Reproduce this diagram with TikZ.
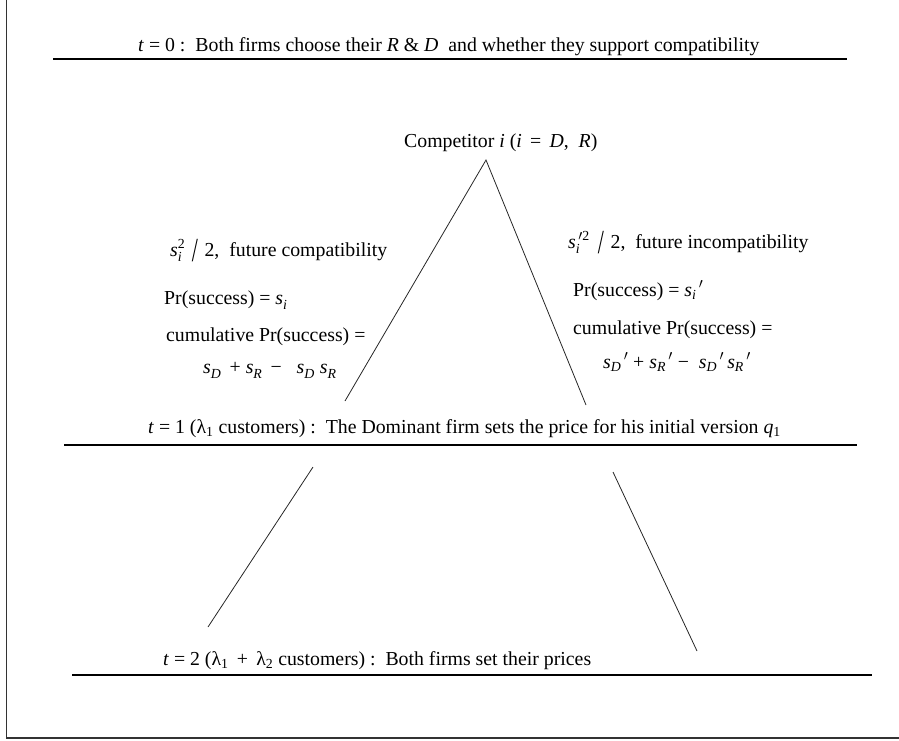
\documentclass[tikz,border=0pt]{standalone}
\usepackage{amsmath}
\usepackage{graphicx}
\usepackage{fontspec}
\setmainfont{Liberation Serif}
\newcommand\sub[1]{\textsubscript{#1}}
\newcommand\sv[2]{$\textit{s}_{\textit{#1}}^{#2}$}
\newcommand\sprm[1]{$\textit{s}_{\textit{#1}}{}^{\,\prime}$}
\newcommand\bigslash{\,\raisebox{-0.3em}{\scalebox{1.1}[1.7]{/}}\,}
\begin{document}
\begin{tikzpicture}[x=1pt,y=-1pt,
  lbl/.style={anchor=base west,inner sep=0pt,font=\fontsize{19.8}{23}\selectfont},
  rule/.style={line width=1.3pt},
  branch/.style={line width=0.8pt,draw=black!85}]
\useasboundingbox (0,0) rectangle (899,740);
\draw[line width=1.5pt,draw=black!80] (6.5,0) -- (6.5,738) -- (899,738);
% time lines
\coordinate (r0a) at (53,59); \coordinate (r0b) at (847,59);
\coordinate (r1a) at (64,445); \coordinate (r1b) at (857,445);
\coordinate (r2a) at (72,675); \coordinate (r2b) at (872,675);
\draw[rule] (r0a) -- (r0b);
\draw[rule] (r1a) -- (r1b);
\draw[rule] (r2a) -- (r2b);
\node[lbl] (t0) at (138,51) {\textit{t} = 0 :\ \ Both firms choose their \textit{R} \& \textit{D}\ \ and whether they support compatibility};
\node[lbl] (comp) at (404,147) {Competitor \textit{i} (\textit{i}\, =\, \textit{D},\ \ \textit{R})};
% tree
\coordinate (apex) at (486,160);
\coordinate (lend) at (345,401);
\coordinate (rend) at (586,405);
\draw[branch] (lend) -- (apex) -- (rend);
\coordinate (l2a) at (313,467); \coordinate (l2b) at (208,627);
\coordinate (r2s) at (613,472); \coordinate (r2e) at (697,651);
\draw[branch] (l2a) -- (l2b);
\draw[branch] (r2s) -- (r2e);
% left block
\node[lbl] (la) at (170,256) {\sv{i}{\text{2}}\,\bigslash\,2,\ \ future compatibility};
\node[lbl] (lb) at (164,304) {Pr(success) = \sv{i}{}};
\node[lbl] (lc) at (166,341) {cumulative Pr(success) =};
\node[lbl] (ld) at (203,373) {\sv{D}{}\, + \sv{R}{}\, −\ \ \ \sv{D}{}\ \sv{R}{}};
% right block
\node[lbl] (ra) at (568,248) {\sv{i}{\,\prime\text{2}}\ \bigslash\,2,\ \ future incompatibility};
\node[lbl] (rb) at (573,296) {Pr(success) = \sprm{i}};
\node[lbl] (rc) at (573,334) {cumulative Pr(success) =};
\node[lbl] (rd) at (603,368) {\sprm{D}\ + \sprm{R}\ −\ \ \sprm{D}\,\sprm{R}};
% stages
\node[lbl] (t1) at (148,433) {\textit{t} = 1 (λ\sub{1} customers) :\ \ The Dominant firm sets the price for his initial version \textit{q}\sub{1}};
\node[lbl] (t2) at (163,665) {\textit{t} = 2 (λ\sub{1}\, +\, λ\sub{2} customers) :\ \ Both firms set their prices};
\end{tikzpicture}
\end{document}
